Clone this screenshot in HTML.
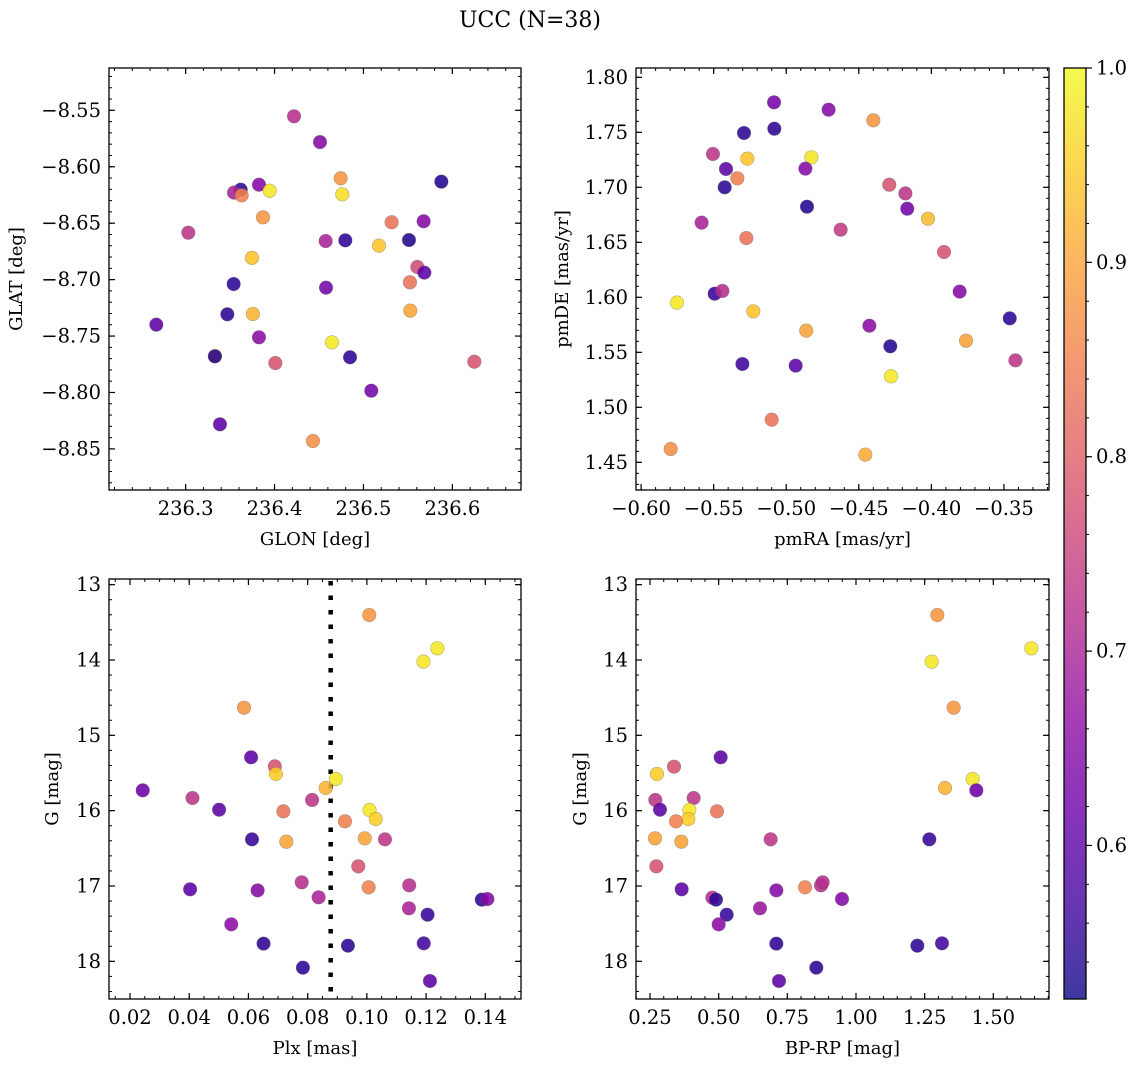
<!DOCTYPE html>
<html><head><meta charset="utf-8"><style>
html,body{margin:0;padding:0;background:#fff;}
svg{display:block;font-family:"DejaVu Serif","Liberation Serif",serif;}
</style></head><body>
<svg id="fig" width="1136" height="1067" viewBox="0 0 1136 1067" xmlns="http://www.w3.org/2000/svg">
<defs>
<linearGradient id="plasma" x1="0" y1="1" x2="0" y2="0">
<stop offset="0" stop-color="#0d0887"/><stop offset="0.1" stop-color="#41049d"/><stop offset="0.2" stop-color="#6a00a8"/><stop offset="0.3" stop-color="#8f0da4"/><stop offset="0.4" stop-color="#b12a90"/><stop offset="0.5" stop-color="#cc4778"/><stop offset="0.6" stop-color="#e16462"/><stop offset="0.7" stop-color="#f2844b"/><stop offset="0.8" stop-color="#fca636"/><stop offset="0.9" stop-color="#fcce25"/><stop offset="1" stop-color="#f0f921"/>
</linearGradient>
</defs>
<text x="530" y="27" text-anchor="middle" font-size="22">UCC (N=38)</text>
</svg>
<script>
// ---- data ----
const glon=[236.4219,236.4511,236.4744,236.5876,236.3825,236.3945,236.3619,236.3544,236.3630,236.4762,236.3870,236.5317,236.5677,236.3030,236.4575,236.4796,236.5175,236.5512,236.3746,236.5606,236.5685,236.5523,236.3540,236.4579,236.5527,236.3469,236.3757,236.2670,236.3825,236.4646,236.3330,236.4849,236.4009,236.6247,236.5088,236.3386,236.4432,236.3329];
const glat=[-8.5553,-8.5781,-8.6102,-8.6132,-8.6159,-8.6212,-8.6203,-8.6229,-8.6253,-8.6244,-8.6448,-8.6492,-8.6483,-8.6584,-8.6658,-8.6652,-8.6699,-8.6649,-8.6808,-8.6888,-8.6938,-8.7024,-8.7039,-8.7071,-8.7275,-8.7307,-8.7304,-8.7399,-8.7511,-8.7556,-8.7677,-8.7688,-8.7739,-8.7727,-8.7984,-8.8282,-8.8430,-8.7680];
const probA=[0.72,0.65,0.88,0.54,0.65,0.98,0.55,0.70,0.85,0.97,0.88,0.83,0.65,0.73,0.70,0.55,0.94,0.54,0.94,0.77,0.60,0.83,0.55,0.63,0.90,0.55,0.92,0.60,0.66,0.98,0.92,0.55,0.78,0.78,0.63,0.60,0.87,0.54];
const pmra=[-0.5084,-0.4708,-0.4400,-0.5291,-0.5082,-0.5505,-0.5268,-0.4827,-0.5415,-0.4868,-0.5337,-0.5424,-0.4857,-0.4290,-0.4179,-0.4166,-0.4023,-0.5583,-0.4625,-0.5275,-0.3913,-0.5493,-0.5440,-0.3805,-0.5753,-0.5227,-0.3460,-0.4427,-0.4862,-0.3761,-0.4283,-0.3421,-0.5302,-0.4935,-0.4278,-0.5100,-0.5796,-0.4455];
const pmde=[1.7773,1.7706,1.7609,1.7494,1.7533,1.7303,1.7261,1.7273,1.7167,1.7170,1.7082,1.7000,1.6824,1.7024,1.6945,1.6806,1.6715,1.6679,1.6615,1.6539,1.6412,1.6033,1.6058,1.6052,1.5952,1.5873,1.5809,1.5742,1.5697,1.5606,1.5555,1.5427,1.5394,1.5379,1.5282,1.4888,1.4621,1.4570];
const probB=[0.63,0.65,0.88,0.55,0.55,0.73,0.94,0.98,0.60,0.65,0.85,0.55,0.54,0.78,0.73,0.63,0.93,0.70,0.74,0.83,0.78,0.56,0.72,0.65,0.98,0.94,0.55,0.66,0.90,0.90,0.54,0.73,0.57,0.60,0.98,0.83,0.87,0.91];
const plx=[0.1008,0.1238,0.1191,0.0585,0.0609,0.0689,0.0693,0.0895,0.0861,0.0243,0.0411,0.0815,0.0501,0.0718,0.1009,0.1030,0.0926,0.0612,0.0728,0.0993,0.1061,0.0971,0.0780,0.1006,0.1143,0.0403,0.0631,0.0837,0.1388,0.1407,0.1142,0.1205,0.0542,0.0651,0.0936,0.1192,0.0784,0.1213];
const gmagC=[13.403,13.845,14.022,14.633,15.292,15.412,15.513,15.580,15.699,15.730,15.832,15.858,15.987,16.009,15.991,16.111,16.142,16.381,16.412,16.367,16.381,16.739,16.951,17.018,16.991,17.044,17.058,17.150,17.181,17.173,17.296,17.381,17.509,17.765,17.792,17.761,18.084,18.261];
const probC=[0.88,0.98,0.98,0.88,0.60,0.78,0.95,0.98,0.92,0.62,0.73,0.73,0.60,0.83,0.98,0.95,0.85,0.56,0.90,0.90,0.73,0.78,0.72,0.85,0.72,0.60,0.65,0.70,0.55,0.65,0.70,0.56,0.66,0.55,0.55,0.57,0.55,0.60];
const bprp=[1.2961,1.6383,1.2755,1.3556,0.5073,0.3374,0.2755,1.4248,1.3240,1.4381,0.2694,0.4090,0.2864,0.4939,0.3932,0.3896,0.3447,1.2670,0.3641,0.2682,0.6893,0.2731,0.8726,0.8143,0.4769,0.3653,0.7100,0.4903,0.9490,0.6505,0.5291,0.5000,0.7100,1.2233,1.3131,0.8556,0.7197,0.8786];
const gmagD=[13.403,13.845,14.022,14.633,15.292,15.416,15.513,15.580,15.699,15.730,15.858,15.832,15.987,16.009,15.991,16.111,16.142,16.381,16.412,16.367,16.381,16.739,16.991,17.018,17.155,17.044,17.058,17.181,17.173,17.296,17.381,17.509,17.765,17.792,17.761,18.084,18.261,16.951];
const probD=[0.88,0.98,0.98,0.88,0.60,0.78,0.95,0.98,0.92,0.62,0.73,0.73,0.60,0.83,0.98,0.95,0.85,0.56,0.90,0.90,0.73,0.78,0.72,0.85,0.72,0.60,0.65,0.55,0.65,0.68,0.56,0.66,0.55,0.55,0.57,0.55,0.60,0.72];
const plxLine=[0.08777];
const cbTicks=[0.6,0.7,0.8,0.9,1.0];
const ticksA_x=[236.3,236.4,236.5,236.6], ticksA_y=[-8.55,-8.60,-8.65,-8.70,-8.75,-8.80,-8.85];
const ticksB_x=[-0.60,-0.55,-0.50,-0.45,-0.40,-0.35], ticksB_y=[1.45,1.50,1.55,1.60,1.65,1.70,1.75,1.80];
const ticksC_x=[0.02,0.04,0.06,0.08,0.10,0.12,0.14], ticksG=[13,14,15,16,17,18];
const ticksD_x=[0.25,0.50,0.75,1.00,1.25,1.50];

const NS='http://www.w3.org/2000/svg';
const svg=document.getElementById('fig');
const PMIN=0.521,PMAX=1.0;
const TFS=19.5, LFS=18;
const stops=[[13,8,135],[65,4,157],[106,0,168],[143,13,164],[177,42,144],[204,71,120],[225,100,98],[242,132,75],[252,166,54],[252,206,37],[240,249,33]];
function cmap(p){let t=(p-PMIN)/(PMAX-PMIN);t=Math.max(0,Math.min(1,t))*10;const i=Math.min(9,Math.floor(t)),f=t-i;const a=stops[i],b=stops[i+1];return 'rgb('+a.map((v,k)=>Math.round(v+(b[k]-v)*f)).join(',')+')';}
function mk(tag,attrs,parent){const e=document.createElementNS(NS,tag);for(const k in attrs)e.setAttribute(k,attrs[k]);(parent||svg).appendChild(e);return e;}
function fmt(v,d){return (v<0?'\u2212':'')+Math.abs(v).toFixed(d);}

function panel(cfg){
  const {L,R,T,B,xmin,xmax,ymin,ymax,inv,name}=cfg;
  const g=mk('g',{});
  
  
  const sx=v=>L+(v-xmin)/(xmax-xmin)*(R-L);
  const sy=inv? v=>T+(v-ymin)/(ymax-ymin)*(B-T) : v=>B-(v-ymin)/(ymax-ymin)*(B-T);
  const eps=1e-9;
  for(let v=Math.ceil(xmin/cfg.xminor-eps)*cfg.xminor; v<=xmax+eps; v+=cfg.xminor){const x=sx(v);
    mk('line',{x1:x,x2:x,y1:B,y2:B-3,stroke:'#000','stroke-width':1},g);mk('line',{x1:x,x2:x,y1:T,y2:T+3,stroke:'#000','stroke-width':1},g);}
  const ylo=Math.min(ymin,ymax),yhi=Math.max(ymin,ymax);
  for(let v=Math.ceil(ylo/cfg.yminor-eps)*cfg.yminor; v<=yhi+eps; v+=cfg.yminor){const y=sy(v);
    mk('line',{x1:L,x2:L+3,y1:y,y2:y,stroke:'#000','stroke-width':1},g);mk('line',{x1:R,x2:R-3,y1:y,y2:y,stroke:'#000','stroke-width':1},g);}
  cfg.xt.forEach(v=>{const x=sx(v);
    mk('line',{x1:x,x2:x,y1:B,y2:B-6,stroke:'#000','stroke-width':1.2},g);mk('line',{x1:x,x2:x,y1:T,y2:T+6,stroke:'#000','stroke-width':1.2},g);
    const t=mk('text',{x:x,y:B+25,'text-anchor':'middle','font-size':TFS},g);t.textContent=fmt(v,cfg.xd);
    
    });
  cfg.yt.forEach(v=>{const y=sy(v);
    mk('line',{x1:L,x2:L+6,y1:y,y2:y,stroke:'#000','stroke-width':1.2},g);mk('line',{x1:R,x2:R-6,y1:y,y2:y,stroke:'#000','stroke-width':1.2},g);
    const t=mk('text',{x:L-8,y:y+6.5,'text-anchor':'end','font-size':TFS},g);t.textContent=fmt(v,cfg.yd);
    
    });
  const xl=mk('text',{x:(L+R)/2,y:B+55,'text-anchor':'middle','font-size':LFS},g);xl.textContent=cfg.xlab;
  
  
  const yl=mk('text',{x:cfg.ylx,y:(T+B)/2,'text-anchor':'middle','font-size':LFS,transform:`rotate(-90 ${cfg.ylx} ${(T+B)/2})`},g);yl.textContent=cfg.ylab;
  
  
  if(cfg.vline){cfg.vline.forEach(v=>{const ln=mk('line',{x1:sx(v),x2:sx(v),y1:T+2,y2:B,stroke:'#000','stroke-width':4.5,'stroke-dasharray':'4.5 10'},g);
    
    });}
  cfg.xs.forEach((xv,i)=>{const c=mk('circle',{cx:sx(xv),cy:sy(cfg.ys[i]),r:6.8,fill:cmap(cfg.ps[i]),'fill-opacity':0.88,stroke:'rgba(90,90,90,0.45)','stroke-width':0.6},g);
    
    });
  mk('rect',{x:L,y:T,width:R-L,height:B-T,fill:'none',stroke:'#000','stroke-width':1.3},g);
}
panel({name:'glon-glat-panel',L:109,R:521,T:68,B:490,xmin:236.2138,xmax:236.6772,ymin:-8.8864,ymax:-8.5125,inv:false,xt:ticksA_x,yt:ticksA_y,xd:1,yd:2,xminor:0.02,yminor:0.01,xlab:'GLON [deg]',ylab:'GLAT [deg]',ylx:22,xs:glon,ys:glat,ps:probA});
panel({name:'pm-panel',L:636,R:1049,T:68,B:490,xmin:-0.60351,xmax:-0.31895,ymin:1.42485,ymax:1.80848,inv:false,xt:ticksB_x,yt:ticksB_y,xd:2,yd:2,xminor:0.01,yminor:0.01,xlab:'pmRA [mas/yr]',ylab:'pmDE [mas/yr]',ylx:568,xs:pmra,ys:pmde,ps:probB});
panel({name:'plx-g-panel',L:109,R:521,T:579,B:999,xmin:0.01291,xmax:0.15205,ymin:12.925,ymax:18.5,inv:true,xt:ticksC_x,yt:ticksG,xd:2,yd:0,xminor:0.005,yminor:0.2,xlab:'Plx [mas]',ylab:'G [mag]',ylx:58,vline:plxLine,xs:plx,ys:gmagC,ps:probC});
panel({name:'cmd-panel',L:636,R:1049,T:579,B:999,xmin:0.19903,xmax:1.7027,ymin:12.925,ymax:18.5,inv:true,xt:ticksD_x,yt:ticksG,xd:2,yd:0,xminor:0.05,yminor:0.2,xlab:'BP-RP [mag]',ylab:'G [mag]',ylx:586,xs:bprp,ys:gmagD,ps:probD});

// colorbar
const cb=mk('g',{});


const CT=68,CB=999,CL=1064,CR=1086;
const cy=v=>CB-(v-PMIN)/(PMAX-PMIN)*(CB-CT);
mk('rect',{x:CL,y:CT,width:CR-CL,height:CB-CT,fill:'url(#plasma)','fill-opacity':0.8},cb);
for(let v=0.54;v<=1.0001;v+=0.02){const y=cy(v);mk('line',{x1:CR,x2:CR+3,y1:y,y2:y,stroke:'#000','stroke-width':1},cb);}
cbTicks.forEach(v=>{const y=cy(v);mk('line',{x1:CR,x2:CR+6,y1:y,y2:y,stroke:'#000','stroke-width':1.2},cb);
  const t=mk('text',{x:CR+10,y:y+6.5,'font-size':TFS},cb);t.textContent=v.toFixed(1);
  
  });
mk('rect',{x:CL,y:CT,width:CR-CL,height:CB-CT,fill:'none',stroke:'#000','stroke-width':1.3},cb);
</script>
</body></html>
